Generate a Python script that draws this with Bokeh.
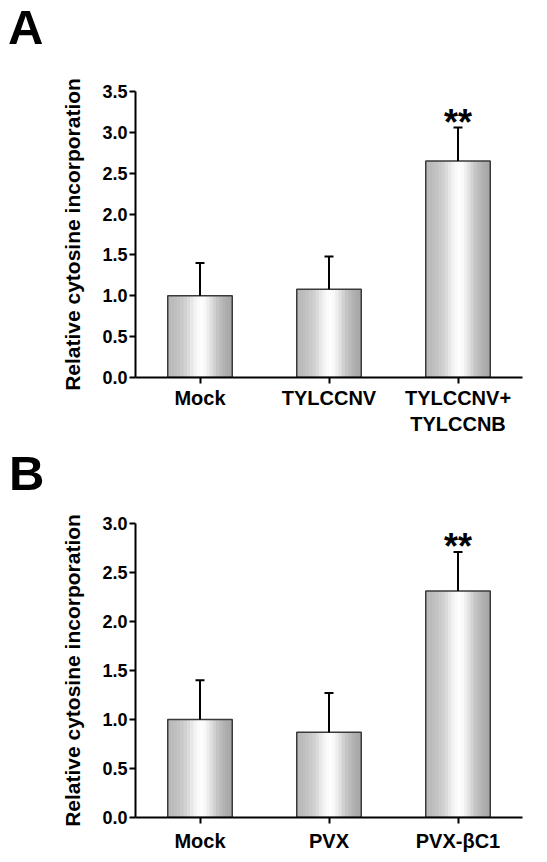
from bokeh.plotting import figure
from bokeh.layouts import column
from bokeh.models import (ColumnDataSource, FixedTicker, NumeralTickFormatter,
                          Whisker, TeeHead, Range1d, FactorRange, Div)
from bokeh.transform import dodge
from bokeh.core.properties import value
from bokeh.embed import file_html
from bokeh.resources import INLINE

FONT = "Liberation Sans"

# ---------------- data ----------------
cats_a = ["Mock", "TYLCCNV", "TYLCCNV+\nTYLCCNB"]
means_a = [1.00, 1.08, 2.65]
errs_a = [0.40, 0.40, 0.41]
sig_a = ["", "", "**"]
yticks_a = [0.0, 0.5, 1.0, 1.5, 2.0, 2.5, 3.0, 3.5]

cats_b = ["Mock", "PVX", "PVX-\u03b2C1"]
means_b = [1.00, 0.87, 2.31]
errs_b = [0.40, 0.40, 0.40]
sig_b = ["", "", "**"]
yticks_b = [0.0, 0.5, 1.0, 1.5, 2.0, 2.5, 3.0]

# gradient shading across each bar (left -> right), style only
SHADES = [186, 188, 191, 195, 201, 209, 219, 231, 242, 250,
          253, 249, 238, 224, 209, 196, 186, 178, 172, 168]
BAR_W = 0.5
W = 547


def letter_div(letter, height, pad_left, pad_top):
    return Div(text=letter, width=W, height=height, margin=0,
               styles={"font-family": "'Liberation Sans', Arial, sans-serif",
                       "font-size": "49px", "font-weight": "bold",
                       "line-height": "49px", "color": "black",
                       "padding-left": "%dpx" % pad_left,
                       "padding-top": "%dpx" % pad_top,
                       "box-sizing": "border-box", "overflow": "visible"})


def make_panel(cats, means, errs, sig, yticks, height,
               mb_top, mb_bottom, mb_left, mb_right, xlabel_standoff):
    upper = [m + e for m, e in zip(means, errs)]
    src = ColumnDataSource(dict(cat=cats, mean=means, upper=upper, sig=sig))
    p = figure(x_range=FactorRange(*cats, range_padding=0, factor_padding=0),
               y_range=Range1d(0, yticks[-1]),
               width=W, height=height, output_backend="svg",
               toolbar_location=None, min_border_top=mb_top,
               min_border_bottom=mb_bottom, min_border_left=mb_left,
               min_border_right=mb_right)
    p.outline_line_color = None
    p.xgrid.grid_line_color = None
    p.ygrid.grid_line_color = None

    n = len(SHADES)
    sw = BAR_W / n
    for i, s in enumerate(SHADES):
        off = -BAR_W / 2 + (i + 0.5) * sw
        col = "#%02x%02x%02x" % (s, s, s)
        p.vbar(x=dodge("cat", off, range=p.x_range), top="mean", bottom=0,
               width=sw * 1.15, source=src, fill_color=col, line_color=None)
    p.vbar(x="cat", top="mean", bottom=0, width=BAR_W, source=src,
           fill_color=None, line_color="#3a3a3a", line_width=1.5)

    wh = Whisker(source=src, base="cat", upper="upper", lower="mean",
                 dimension="height", line_color="black", line_width=2,
                 upper_head=TeeHead(size=9, line_color="black", line_width=2),
                 lower_head=None, level="overlay")
    p.add_layout(wh)

    p.text(x="cat", y="upper", text="sig", source=src,
           text_font=value(FONT), text_font_size="36px",
           text_font_style="bold", text_align="center",
           text_baseline="middle", text_color="black", y_offset=-5)

    for ax in (p.xaxis, p.yaxis):
        ax.axis_line_width = 2
        ax.axis_line_color = "black"
        ax.major_tick_line_width = 2
        ax.major_tick_line_color = "black"
        ax.major_tick_out = 6
        ax.major_tick_in = 0
        ax.minor_tick_line_color = None
        ax.major_label_text_font = FONT
        ax.major_label_text_font_style = "bold"
        ax.major_label_text_color = "black"

    p.xaxis.major_label_text_font_size = "20px"
    p.xaxis.major_label_standoff = xlabel_standoff
    p.yaxis.major_label_text_font_size = "18px"
    p.yaxis.major_label_standoff = 2
    p.yaxis.ticker = FixedTicker(ticks=yticks)
    p.yaxis.formatter = NumeralTickFormatter(format="0.0")
    p.yaxis.axis_label = "Relative cytosine incorporation"
    p.yaxis.axis_label_text_font = FONT
    p.yaxis.axis_label_text_font_size = "21px"
    p.yaxis.axis_label_text_font_style = "bold"
    p.yaxis.axis_label_text_color = "black"
    p.yaxis.axis_label_standoff = 15
    return p


la = letter_div("A", 50, 8, 3)
pa = make_panel(cats_a, means_a, errs_a, sig_a, yticks_a, 390,
                41, 63, 135, 25, 3)
lb = letter_div("B", 54, 9, 9)
pb = make_panel(cats_b, means_b, errs_b, sig_b, yticks_b, 366,
                29, 43, 133, 10, 6)

layout = column(la, pa, lb, pb, spacing=0)
open("out.html", "w").write(file_html(layout, INLINE))
